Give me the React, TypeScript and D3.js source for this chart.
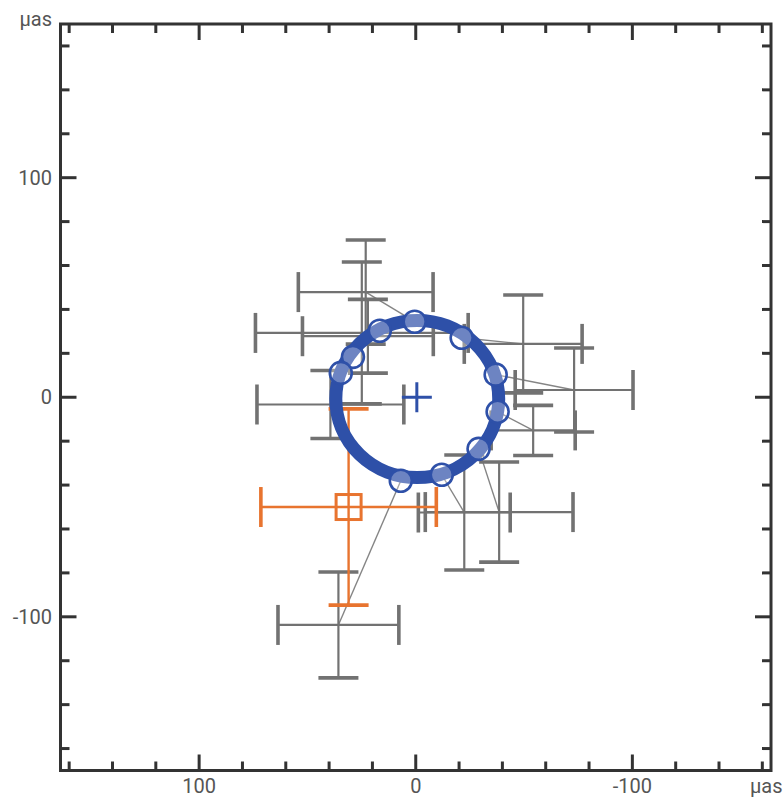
import React from 'react';
import * as d3 from 'd3';

const W = 784, H = 798;

// axes
const xDomain = [164, -164];
const yDomain = [170, -170];
const tickValues = d3.range(-160, 161, 20);
const majorTicks = [100, 0, -100];
const tickLabels = ['100', '0', '-100'];
const unitLabel = 'µas';

// orbit (blue ring)
const orbitCenter = [-0.7, -0.8];
const orbitRadii = [37.6, 35.8];

// model positions on the orbit (blue circles)
const modelX = [0.5, 16.6, 29.0, 34.6, 6.9, -12.0, -29.0, -37.8, -36.9, -21.2];
const modelY = [34.4, 30.3, 18.4, 11.1, -38.0, -35.3, -23.5, -6.6, 10.3, 27.1];

// measured positions (gray crosses)
const obsX = [23.1, 24.9, 22.1, 39.4, 35.7, -22.4, -38.5, -54.2, -73.1, -49.6];
const obsY = [47.9, 29.3, 27.8, -3.3, -103.7, -52.5, -52.3, -15.1, 3.3, 24.3];
const obsEx = [31.1, 49.1, 30.2, 33.9, 27.9, 21.2, 34.1, 19.4, 27.2, 27.2];
const obsEy = [23.7, 32.3, 16.8, 15.5, 24.1, 26.2, 22.8, 11.4, 19.1, 22.3];

// orange reference position
const refX = [31.0];
const refY = [-50.0];
const refEx = [40.5];
const refEy = [44.7];

// blue centre cross
const centerX = [-0.5];
const centerY = [0];

const GRAY = '#727272';
const ORANGE = '#e8742f';
const BLUE = '#2e50a8';
const AXIS = '#333';
const TEXT = '#555';

export default function App() {
  const x = d3.scaleLinear().domain(xDomain).range([60.5, 771]);
  const y = d3.scaleLinear().domain(yDomain).range([24, 770.5]);
  const capHalf = 20;
  const font = 'Roboto, "Noto Sans", sans-serif';

  const errorBar = (cx: number, cy: number, ex: number, ey: number, color: string, key: string, lw = 2.2, cw = 3.6) => {
    const px = x(cx), py = y(cy);
    const x0 = x(cx + ex), x1 = x(cx - ex);
    const y0 = y(cy + ey), y1 = y(cy - ey);
    return (
      <g key={key} stroke={color} fill="none">
        <line x1={x0} x2={x1} y1={py} y2={py} strokeWidth={lw} />
        <line x1={px} x2={px} y1={y0} y2={y1} strokeWidth={lw} />
        <line x1={x0} x2={x0} y1={py - capHalf} y2={py + capHalf} strokeWidth={cw} />
        <line x1={x1} x2={x1} y1={py - capHalf} y2={py + capHalf} strokeWidth={cw} />
        <line x1={px - capHalf} x2={px + capHalf} y1={y0} y2={y0} strokeWidth={cw} />
        <line x1={px - capHalf} x2={px + capHalf} y1={y1} y2={y1} strokeWidth={cw} />
      </g>
    );
  };

  const left = x.range()[0], right = x.range()[1];
  const top = y.range()[0], bottom = y.range()[1];

  const ticks: JSX.Element[] = [];
  tickValues.forEach((v, i) => {
    const len = majorTicks.includes(v) ? 16 : 9;
    const tx = x(v), ty = y(v);
    ticks.push(<line key={'tt' + i} x1={tx} x2={tx} y1={top} y2={top + len} />);
    ticks.push(<line key={'tb' + i} x1={tx} x2={tx} y1={bottom} y2={bottom - len} />);
    ticks.push(<line key={'tl' + i} x1={left} x2={left + len} y1={ty} y2={ty} />);
    ticks.push(<line key={'tr' + i} x1={right} x2={right - len} y1={ty} y2={ty} />);
  });

  const rx = Math.abs(x(orbitRadii[0]) - x(0));
  const ry = Math.abs(y(orbitRadii[1]) - y(0));

  return (
    <svg width={W} height={H} style={{ position: 'absolute', left: 0, top: 0, background: '#fff' }}>
      <rect x={0} y={0} width={W} height={H} fill="#fff" />
      {/* connecting lines */}
      <g stroke="#858585" strokeWidth={1.4}>
        {modelX.map((mx, i) => (
          <line key={'c' + i} x1={x(mx)} y1={y(modelY[i])} x2={x(obsX[i])} y2={y(obsY[i])} />
        ))}
      </g>
      {/* gray error crosses */}
      {obsX.map((ox, i) => errorBar(ox, obsY[i], obsEx[i], obsEy[i], GRAY, 'o' + i))}
      {/* orange */}
      {refX.map((rxv, i) => (
        <g key={'r' + i}>
          {errorBar(rxv, refY[i], refEx[i], refEy[i], ORANGE, 'rb' + i, 2.4, 3.6)}
          <rect x={x(rxv) - 12.5} y={y(refY[i]) - 12.5} width={25} height={25} fill="none" stroke={ORANGE} strokeWidth={3} />
        </g>
      ))}
      {/* orbit ring */}
      <ellipse cx={x(orbitCenter[0])} cy={y(orbitCenter[1])} rx={rx} ry={ry} fill="none" stroke={BLUE} strokeWidth={13} />
      {/* model circles */}
      {modelX.map((mx, i) => (
        <circle key={'m' + i} cx={x(mx)} cy={y(modelY[i])} r={11} fill="#fff" fillOpacity={0.3} stroke={BLUE} strokeWidth={2.6} />
      ))}
      {/* centre cross */}
      {centerX.map((cx, i) => (
        <g key={'cc' + i} stroke={BLUE} strokeWidth={3}>
          <line x1={x(cx) - 15} x2={x(cx) + 15} y1={y(centerY[i])} y2={y(centerY[i])} />
          <line x1={x(cx)} x2={x(cx)} y1={y(centerY[i]) - 15} y2={y(centerY[i]) + 15} />
        </g>
      ))}
      {/* frame */}
      <g stroke={AXIS} strokeWidth={3}>{ticks}</g>
      <rect x={left} y={top} width={right - left} height={bottom - top} fill="none" stroke={AXIS} strokeWidth={3} />
      {/* labels */}
      <g fill={TEXT} fontFamily={font} fontSize={20}>
        {majorTicks.map((v, i) => (
          <text key={'yl' + i} x={52} y={y(v) + 7} textAnchor="end">{tickLabels[i]}</text>
        ))}
        {majorTicks.map((v, i) => (
          <text key={'xl' + i} x={x(v)} y={793} textAnchor="middle">{tickLabels[i]}</text>
        ))}
        <text x={52} y={26} textAnchor="end">{unitLabel}</text>
        <text x={750} y={793} textAnchor="start">{unitLabel}</text>
      </g>
    </svg>
  );
}
